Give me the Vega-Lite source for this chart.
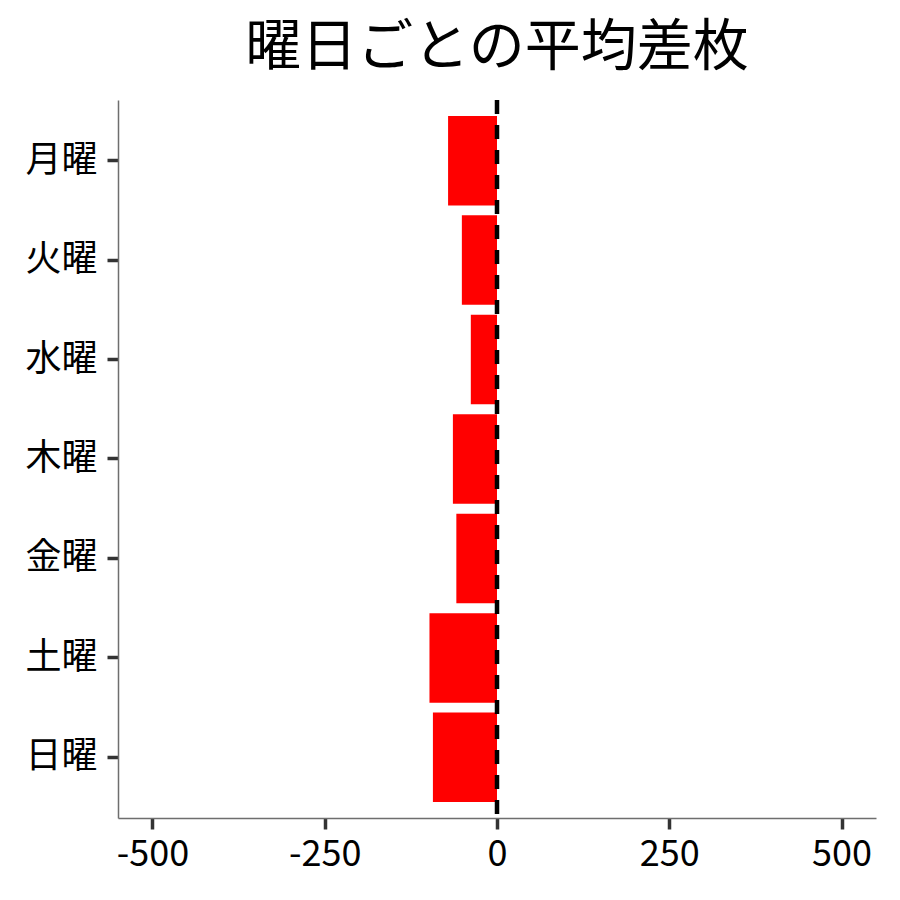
{
  "$schema": "https://vega.github.io/schema/vega-lite/v6.json",
  "autosize": "none",
  "width": 758,
  "height": 718,
  "padding": {"left": 118, "top": 100, "right": 24, "bottom": 82},
  "background": "white",
  "config": {
    "font": "Noto Sans CJK JP",
    "view": {"stroke": null}
  },
  "title": {
    "text": "曜日ごとの平均差枚",
    "fontSize": 56,
    "fontWeight": "normal",
    "color": "black",
    "anchor": "middle",
    "offset": 21
  },
  "data": {
    "values": [
      {"day": "月曜", "diff": -71},
      {"day": "火曜", "diff": -51},
      {"day": "水曜", "diff": -38},
      {"day": "木曜", "diff": -64},
      {"day": "金曜", "diff": -59},
      {"day": "土曜", "diff": -98},
      {"day": "日曜", "diff": -93}
    ]
  },
  "layer": [
    {
      "mark": {"type": "bar", "color": "red"},
      "encoding": {
        "y": {
          "field": "day",
          "type": "nominal",
          "sort": null,
          "title": null,
          "scale": {"paddingInner": 0.1, "paddingOuter": 0.16},
          "axis": {
            "labelFontSize": 36,
            "labelColor": "black",
            "labelPadding": 10,
            "domainColor": "#6e6e6e",
            "domainWidth": 1.5,
            "tickColor": "#333333",
            "tickWidth": 3.5,
            "tickSize": 11
          }
        },
        "x": {
          "field": "diff",
          "type": "quantitative",
          "title": null,
          "scale": {"domain": [-550, 550], "nice": false},
          "axis": {
            "values": [-500, -250, 0, 250, 500],
            "labelExpr": "'' + datum.value",
            "labelFontSize": 36,
            "labelColor": "black",
            "labelPadding": 8,
            "grid": false,
            "domainColor": "#6e6e6e",
            "domainWidth": 1.5,
            "tickColor": "#333333",
            "tickWidth": 3.5,
            "tickSize": 11
          }
        }
      }
    },
    {
      "data": {"values": [{"zero": 0}]},
      "mark": {"type": "rule", "color": "black", "strokeWidth": 4.5, "strokeDash": [14, 11]},
      "encoding": {
        "x": {"field": "zero", "type": "quantitative"}
      }
    }
  ]
}
